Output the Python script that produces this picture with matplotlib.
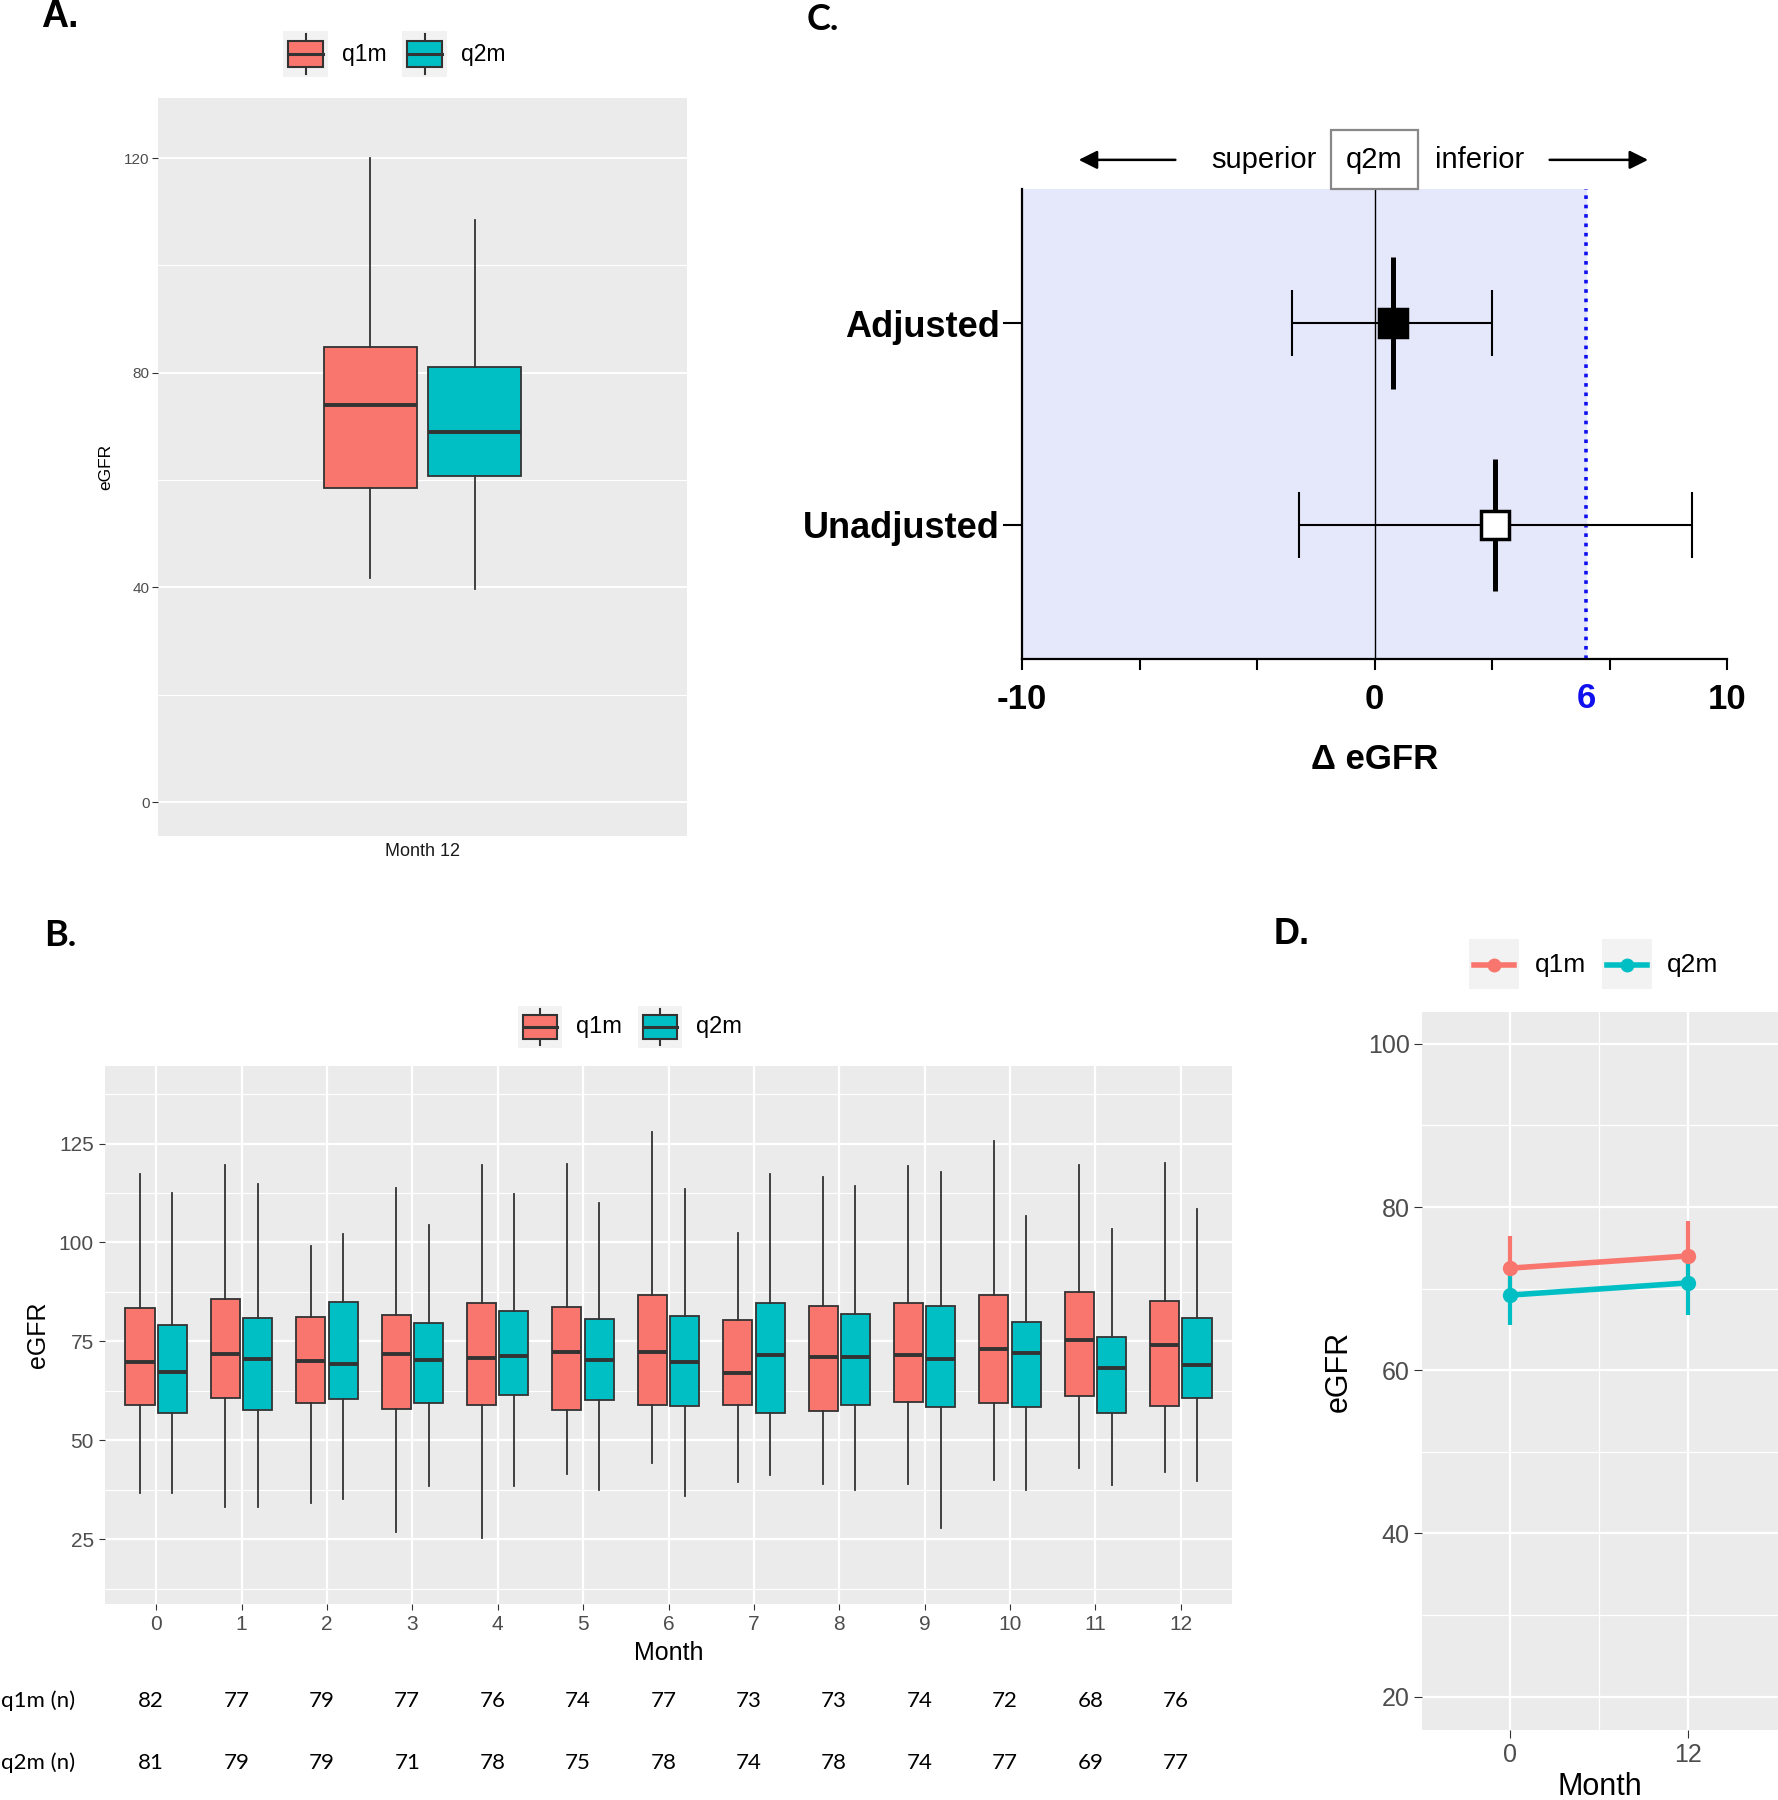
import matplotlib
matplotlib.use("Agg")
import matplotlib.pyplot as plt
from matplotlib.patches import Rectangle
from matplotlib.transforms import Affine2D, blended_transform_factory

plt.rcParams["font.family"] = ["Liberation Sans", "DejaVu Sans"]

RED, TEAL, EDGE = "#F8766D", "#00BFC4", "#333333"
PANEL, KEYBG = "#EBEBEB", "#F2F2F2"

# ---- panel A: month 12 boxplot (whislo, q1, med, q3, whishi)
a_q1m = [41.8, 58.6, 74.0, 84.8, 120.0]
a_q2m = [39.7, 60.7, 68.9, 81.0, 108.4]

# ---- panel B: monthly boxplots
months = list(range(13))
q1m_lo = [36.6, 33.1, 34.2, 26.9, 25.3, 41.4, 44.3, 39.5, 39.0, 39.0, 40.0, 43.0, 41.9]
q1m_q1 = [58.9, 60.6, 59.3, 58.0, 58.9, 57.7, 58.9, 59.0, 57.4, 59.6, 59.3, 61.2, 58.6]
q1m_med = [69.8, 71.7, 70.1, 71.7, 70.9, 72.2, 72.2, 67.0, 71.1, 71.5, 73.1, 75.3, 74.1]
q1m_q3 = [83.3, 85.8, 81.1, 81.7, 84.6, 83.6, 86.8, 80.5, 83.9, 84.6, 86.8, 87.5, 85.2]
q1m_hi = [117.3, 119.6, 99.1, 113.7, 119.5, 119.9, 127.9, 102.5, 116.6, 119.2, 125.6, 119.6, 120.1]
q2m_lo = [36.6, 33.1, 35.2, 38.5, 38.5, 37.5, 36.0, 41.3, 37.4, 27.8, 37.5, 38.8, 39.7]
q2m_q1 = [57.0, 57.7, 60.3, 59.4, 61.5, 60.2, 58.7, 57.0, 58.9, 58.3, 58.4, 57.0, 60.6]
q2m_med = [67.2, 70.5, 69.3, 70.2, 71.2, 70.2, 69.8, 71.5, 71.1, 70.5, 72.0, 68.3, 69.0]
q2m_q3 = [79.2, 80.8, 84.9, 79.7, 82.7, 80.7, 81.3, 84.6, 81.8, 84.0, 79.8, 76.0, 80.8]
q2m_hi = [112.5, 114.8, 102.2, 104.5, 112.2, 109.9, 113.4, 117.2, 114.2, 117.7, 106.8, 103.5, 108.4]
n_q1m = [82, 77, 79, 77, 76, 74, 77, 73, 73, 74, 72, 68, 76]
n_q2m = [81, 79, 79, 71, 78, 75, 78, 74, 78, 74, 77, 69, 77]

# ---- panel C: forest plot
c_labels = ["Adjusted", "Unadjusted"]
c_est = [0.52, 3.41]
c_lo = [-2.33, -2.15]
c_hi = [3.34, 9.0]
c_margin = 6

# ---- panel D: mean +/- error
d_months = [0, 12]
d_q1m = [72.5, 74.0]
d_q1m_err = [3.9, 4.3]
d_q2m = [69.2, 70.7]
d_q2m_err = [3.7, 3.9]

W, H = 1778, 1800
fig = plt.figure(figsize=(W / 100, H / 100), dpi=100)
PX = Affine2D().scale(1 / W, -1 / H).translate(0, 1) + fig.transFigure


def gg_axes(rect):
    ax = fig.add_axes(rect)
    ax.set_facecolor(PANEL)
    for s in ax.spines.values():
        s.set_visible(False)
    ax.set_axisbelow(True)
    ax.tick_params(which="minor", length=0)
    return ax


def stats(lo, q1, med, q3, hi):
    return dict(whislo=lo, q1=q1, med=med, q3=q3, whishi=hi, fliers=[])


def draw_boxes(ax, data, pos, width, color, lw=1.3, mlw=2.8):
    return ax.bxp(data, positions=pos, widths=width, patch_artist=True, showcaps=False,
                  boxprops=dict(edgecolor=EDGE, lw=lw, facecolor=color),
                  medianprops=dict(color=EDGE, lw=mlw),
                  whiskerprops=dict(color=EDGE, lw=lw), manage_ticks=False)


def box_key(x0, y0, w, h, color, label, tx, fs):
    fig.patches.append(Rectangle((x0, y0), w, h, transform=PX, fc=KEYBG, ec="none", zorder=0))
    cx, cy = x0 + w / 2, y0 + h / 2
    bw, bh = w * 0.78, h * 0.55
    fig.lines.append(plt.Line2D([cx, cx], [y0 + 3, y0 + h - 3], transform=PX, color=EDGE,
                                lw=1.5, zorder=0.5))
    fig.patches.append(Rectangle((cx - bw / 2, cy - bh / 2), bw, bh, transform=PX,
                                 fc=color, ec=EDGE, lw=1.5, zorder=1))
    fig.lines.append(plt.Line2D([cx - bw / 2, cx + bw / 2], [cy, cy], transform=PX, color=EDGE,
                                lw=2.2, zorder=2))
    fig.text(tx, cy, label, transform=PX, va="center", ha="left", fontsize=fs, color="black")


# ================= A
axA = gg_axes([158 / W, 1 - 836 / H, 529 / W, 738 / H])
draw_boxes(axA, [stats(*a_q1m)], [1 - 0.118], 0.21, RED)
draw_boxes(axA, [stats(*a_q2m)], [1 + 0.118], 0.21, TEAL)
axA.set_xlim(0.4, 1.6)
axA.set_ylim(-6.3, 131.2)
axA.set_xticks([1], ["Month 12"])
axA.set_yticks([0, 40, 80, 120])
axA.set_yticks([20, 60, 100], minor=True)
axA.grid(axis="y", which="major", color="white", lw=1.4)
axA.grid(axis="y", which="minor", color="white", lw=0.8)
axA.tick_params(axis="y", labelsize=11, colors=EDGE, labelcolor="#4D4D4D", length=4, pad=2)
axA.tick_params(axis="x", labelsize=13, length=0, pad=5, labelcolor="#1A1A1A")
axA.set_ylabel("eGFR", fontsize=12.5, labelpad=8)
box_key(283, 31, 45, 46, RED, "q1m", 342, 16.5)
box_key(402, 31, 45, 46, TEAL, "q2m", 461, 16.5)
fig.text(41, 17, "A.", transform=PX, fontsize=27, fontweight="bold", va="center")

# ================= B
axB = gg_axes([105 / W, 1 - 1604 / H, 1127 / W, 538 / H])
draw_boxes(axB, [stats(*v) for v in zip(q1m_lo, q1m_q1, q1m_med, q1m_q3, q1m_hi)],
           [m - 0.19 for m in months], 0.34, RED)
draw_boxes(axB, [stats(*v) for v in zip(q2m_lo, q2m_q1, q2m_med, q2m_q3, q2m_hi)],
           [m + 0.19 for m in months], 0.34, TEAL)
axB.set_xlim(-0.6, 12.6)
axB.set_ylim(8.6, 144.6)
axB.set_xticks(months)
axB.set_yticks([25, 50, 75, 100, 125])
axB.set_yticks([12.5, 37.5, 62.5, 87.5, 112.5, 137.5], minor=True)
axB.grid(which="major", color="white", lw=1.6)
axB.grid(axis="y", which="minor", color="white", lw=0.8)
axB.tick_params(which="major", labelsize=15, colors=EDGE, labelcolor="#4D4D4D", length=4, pad=4)
axB.set_xlabel("Month", fontsize=18, labelpad=5)
axB.set_ylabel("eGFR", fontsize=18, labelpad=6)
box_key(518, 1006, 44, 42, RED, "q1m", 576, 17)
box_key(638, 1006, 44, 42, TEAL, "q2m", 696, 17)
fig.text(44, 936, "B.", transform=PX, fontsize=26, fontweight="bold", va="center",
         family=["Lato", "DejaVu Sans"])
tb = blended_transform_factory(axB.transData, axB.transAxes)
for m, a, b in zip(months, n_q1m, n_q2m):
    axB.text(m - 0.06, -0.180, str(a), transform=tb, ha="center", va="center",
             fontsize=16, family=["Lato", "DejaVu Sans"])
    axB.text(m - 0.06, -0.2955, str(b), transform=tb, ha="center", va="center",
             fontsize=16, family=["Lato", "DejaVu Sans"])
fig.text(1, 1701, "q1m (n)", transform=PX, ha="left", va="center", fontsize=16,
         family=["Lato", "DejaVu Sans"])
fig.text(1, 1763, "q2m (n)", transform=PX, ha="left", va="center", fontsize=16,
         family=["Lato", "DejaVu Sans"])

# ================= C
axC = fig.add_axes([1022 / W, 1 - 659 / H, 705 / W, 470 / H])
axC.set_xlim(-10, 10)
axC.set_ylim(0.332, 2.668)
for s in ("top", "right"):
    axC.spines[s].set_visible(False)
for s in ("left", "bottom"):
    axC.spines[s].set_linewidth(1.6)
axC.axvspan(-10, c_margin, color="#E5E8FB", zorder=0)
axC.axvline(c_margin, color="#1010EE", ls=(0, (1, 1.6)), lw=2.6, zorder=1)
axC.axvline(0, color="black", lw=1.0, zorder=1)
rows = [2, 1]
for y, est, lo, hi, fill in zip(rows, c_est, c_lo, c_hi, ["black", "white"]):
    axC.errorbar([est], [y], xerr=[[est - lo], [hi - est]], fmt="none", ecolor="black",
                 elinewidth=1.5, capsize=24, capthick=1.5, zorder=3)
    axC.plot([est], [y], marker="|", ms=95, mew=3.6, color="black", zorder=4)
    axC.plot([est], [y], marker="s", ms=20, mfc=fill, mec="black", mew=2.5, zorder=5)
axC.set_yticks(rows, c_labels)
axC.tick_params(axis="y", length=14, width=1.5, pad=2, labelsize=26)
for t in axC.get_yticklabels():
    t.set_fontweight("bold")
axC.set_xticks([-10, 0, 10], ["-10", "0", "10"])
axC.set_xticks([-20 / 3, -10 / 3, 10 / 3, 20 / 3], minor=True)
axC.tick_params(axis="x", which="both", length=8, width=1.5, direction="out")
axC.tick_params(axis="x", which="major", labelsize=25, pad=9)
for t in axC.get_xticklabels():
    t.set_fontweight("bold")
tcx = blended_transform_factory(axC.transData, axC.transAxes)
axC.text(c_margin, -0.083, str(c_margin), transform=tcx, ha="center", va="center",
         fontsize=25, fontweight="bold", color="#1010EE")
axC.set_xlabel("\u0394 eGFR", fontsize=25, fontweight="bold", labelpad=20)
axC.add_patch(Rectangle((-1.22, 1.0), 2.44, 0.1255, transform=tcx, fc="white",
                        ec="#888888", lw=1.6, clip_on=False))
axC.text(0, 1.062, "q2m", transform=tcx, ha="center", va="center", fontsize=21)
axC.text(-1.65, 1.062, "superior", transform=tcx, ha="right", va="center", fontsize=21)
axC.text(1.73, 1.062, "inferior", transform=tcx, ha="left", va="center", fontsize=21)
axC.annotate("", xy=(-8.47, 1.062), xytext=(-5.57, 1.062), xycoords=tcx, textcoords=tcx,
             arrowprops=dict(arrowstyle="-|>", color="black", lw=1.8, mutation_scale=28))
axC.annotate("", xy=(7.84, 1.062), xytext=(4.89, 1.062), xycoords=tcx, textcoords=tcx,
             arrowprops=dict(arrowstyle="-|>", color="black", lw=1.8, mutation_scale=28))
fig.text(807, 19, "C.", transform=PX, fontsize=26, fontweight="bold", va="center",
         family=["Lato", "DejaVu Sans"])

# ================= D
axD = gg_axes([1422 / W, 1 - 1730 / H, 356 / W, 718 / H])
axD.set_xlim(-5.9, 18.05)
axD.set_ylim(15.9, 103.9)
axD.set_xticks(d_months)
axD.set_xticks([6], minor=True)
axD.set_yticks([20, 40, 60, 80, 100])
axD.set_yticks([30, 50, 70, 90], minor=True)
axD.grid(which="major", color="white", lw=1.6)
axD.grid(which="minor", color="white", lw=0.9)
axD.tick_params(which="major", labelsize=18, colors=EDGE, labelcolor="#4D4D4D", length=6, pad=3)
for mean, err, col in [(d_q1m, d_q1m_err, RED), (d_q2m, d_q2m_err, TEAL)]:
    axD.errorbar(d_months, mean, yerr=err, color=col, lw=4, elinewidth=3, capsize=0,
                 marker="o", ms=10)
axD.set_xlabel("Month", fontsize=22, labelpad=4)
axD.set_ylabel("eGFR", fontsize=22, labelpad=10)
for x0, col, lab, tx in [(1469, RED, "q1m", 1535), (1602, TEAL, "q2m", 1667)]:
    fig.patches.append(Rectangle((x0, 939), 50, 50, transform=PX, fc=KEYBG, ec="none"))
    fig.lines.append(plt.Line2D([x0 + 5, x0 + 45], [965, 965], transform=PX, color=col, lw=4))
    fig.lines.append(plt.Line2D([x0 + 25], [965], transform=PX, color=col, marker="o", ms=9))
    fig.text(tx, 965, lab, transform=PX, va="center", ha="left", fontsize=19)
fig.text(1274, 934, "D.", transform=PX, fontsize=26, fontweight="bold", va="center")

fig.savefig("out.png", dpi=100)
